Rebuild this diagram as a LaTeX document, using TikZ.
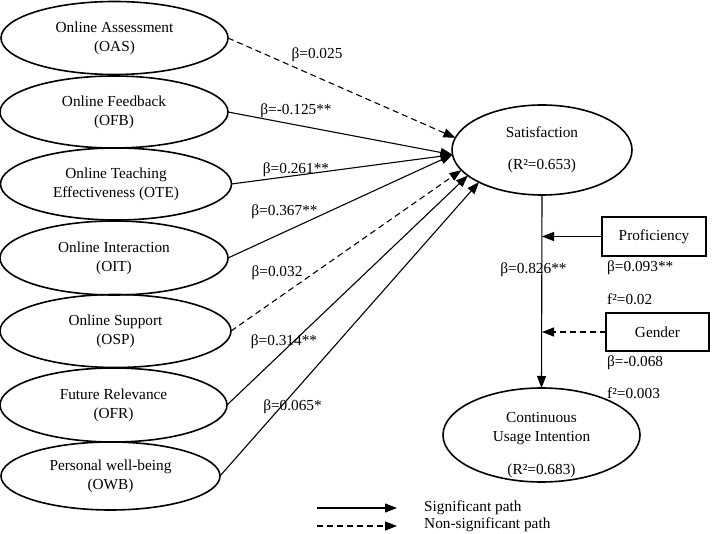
\documentclass[tikz,border=0pt]{standalone}
\usepackage{fontspec}
\setmainfont{Liberation Serif}
\usetikzlibrary{arrows.meta,shapes.geometric}
\begin{document}
\begin{tikzpicture}[x=1pt,y=-1pt,
  txt/.style={font=\fontsize{15.3}{19}\selectfont},
  lat/.style={draw, ellipse, line width=1.6pt, inner sep=0pt, outer sep=0pt, align=center, txt},
  box/.style={draw, rectangle, line width=1.6pt, inner sep=0pt, outer sep=0pt, txt},
  lbl/.style={inner sep=0pt, txt},
  sig/.style={line width=1.1pt, -{Triangle[length=12pt,width=9pt]}},
  nsig/.style={sig, dash pattern=on 6pt off 4pt}]
\useasboundingbox (0,0) rectangle (712,534);

% left constructs
\node[lat, minimum width=227pt, minimum height=73pt] (oas) at (114.5,38) {Online Assessment\\(OAS)};
\node[lat, minimum width=228pt, minimum height=72pt] (ofb) at (114,112) {Online Feedback\\(OFB)};
\node[lat, minimum width=231pt, minimum height=72pt] (ote) at (116,184) {Online Teaching\\Effectiveness (OTE)};
\node[lat, minimum width=228pt, minimum height=74pt] (oit) at (114,258) {Online Interaction\\(OIT)};
\node[lat, minimum width=231pt, minimum height=73pt] (osp) at (115.5,331) {Online Support\\(OSP)};
\node[lat, minimum width=227pt, minimum height=74pt] (ofr) at (113.5,405) {Future Relevance\\(OFR)};
\node[lat, minimum width=219pt, minimum height=68pt] (owb) at (110.5,476) {Personal well-being\\(OWB)};

% outcomes
\node[lat, minimum width=180pt, minimum height=90pt] (sat) at (542,150) {Satisfaction\\[13pt](R²=0.653)};
\node[lat, minimum width=197pt, minimum height=94pt] (cui) at (541.5,435) {};
\node[lbl, align=center] (cuitxt) at (541.5,445) {Continuous\\Usage Intention\\[14pt](R²=0.683)};

% moderators
\node[box, minimum width=104pt, minimum height=39pt] (prof) at (654,236.5) {Proficiency};
\node[box, minimum width=103pt, minimum height=38pt] (gen) at (657.5,332) {Gender};

% paths to satisfaction
\draw[nsig] (oas.east) -- (sat.172);
\draw[sig] (ofb.east) -- (sat.183);
\draw[sig] (ote.east) -- (sat.183);
\draw[sig] (oit.east) -- (sat.183);
\draw[nsig] (osp.east) -- (sat.194.5);
\draw[sig] (ofr.east) -- (sat.199.7);
\draw[sig] (owb.east) -- (sat.207.6);

% satisfaction -> CUI
\draw[sig] (sat.south) -- (cui.north);
\coordinate (mp) at (sat.south |- prof.west);
\coordinate (mg) at (sat.south |- gen.west);
\draw[sig] (prof.west) -- (mp);
\draw[nsig] (gen.west) -- (mg);

% path labels
\node[lbl] (b1) at (317,55) {β=0.025};
\node[lbl] (b2) at (296,111) {β=-0.125**};
\node[lbl] (b3) at (296,170) {β=0.261**};
\node[lbl] (b4) at (284.5,212) {β=0.367**};
\node[lbl] (b5) at (277,273) {β=0.032};
\node[lbl] (b6) at (284,342) {β=0.314**};
\node[lbl] (b7) at (292.5,407) {β=0.065*};
\node[lbl] (b8) at (533.5,270) {β=0.826**};
\node[lbl, anchor=west] (b9) at (607,268) {β=0.093**};
\node[lbl, anchor=west] (f1) at (607,299) {f²=0.02};
\node[lbl, anchor=west] (b10) at (607,363) {β=-0.068};
\node[lbl, anchor=west] (f2) at (607,393) {f²=0.003};

% legend
\coordinate (l1a) at (317,508);
\coordinate (l1b) at (397,508);
\coordinate (l2a) at (317,526);
\coordinate (l2b) at (397,526);
\draw[sig] (l1a) -- (l1b);
\draw[nsig] (l2a) -- (l2b);
\node[lbl, anchor=west] (lg1) at (424,508) {Significant path};
\node[lbl, anchor=west] (lg2) at (424,525) {Non-significant path};
\end{tikzpicture}
\end{document}
